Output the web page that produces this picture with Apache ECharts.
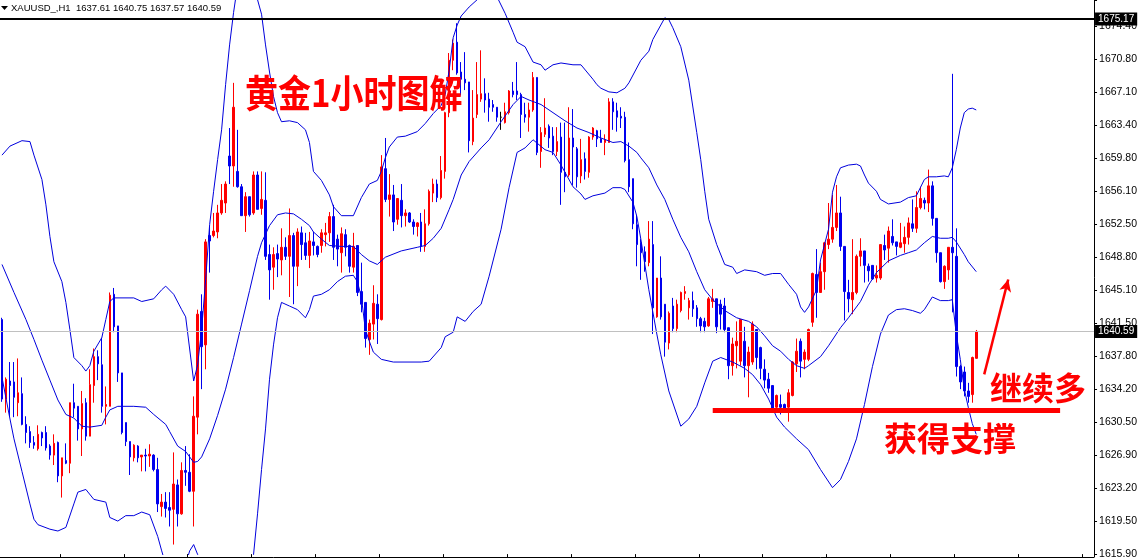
<!DOCTYPE html>
<html><head><meta charset="utf-8">
<script src="https://cdn.jsdelivr.net/npm/echarts@6/dist/echarts.min.js"></script>
<style>html,body{margin:0;padding:0;background:#fff}#c{width:1140px;height:560px}</style>
</head><body><div id="c"></div>
<script>
const symbolName = 'XAUUSD_,H1';
const open = [1641.9,1633.1,1635.1,1635.0,1632.7,1633.7,1630.3,1629.5,1628.3,1627.6,
1629.4,1629.4,1627.9,1626.9,1628.3,1624.6,1626.3,1626.0,1632.7,1632.3,
1629.8,1632.7,1629.0,1634.6,1637.8,1636.9,1632.3,1632.3,1644.7,1641.2,
1636.0,1630.5,1628.4,1626.6,1627.9,1626.7,1626.9,1626.8,1626.9,1625.3,
1621.2,1621.7,1621.1,1620.9,1623.6,1620.4,1625.2,1625.0,1622.9,1631.1,
1642.8,1639.1,1651.2,1651.2,1651.6,1653.7,1654.8,1660.0,1658.9,1658.3,
1656.6,1653.4,1655.5,1653.7,1657.9,1654.2,1655.1,1649.1,1647.7,1649.2,
1648.5,1649.9,1648.9,1651.2,1647.8,1651.5,1650.4,1649.0,1650.5,1650.0,
1650.1,1651.3,1651.5,1653.3,1650.8,1649.3,1651.3,1650.1,1647.7,1650.1,
1645.0,1643.8,1639.7,1641.4,1643.6,1641.9,1658.6,1655.2,1655.7,1653.0,
1655.1,1653.4,1653.7,1652.7,1652.2,1652.7,1650.0,1652.5,1655.9,1656.9,
1655.4,1658.3,1664.8,1670.6,1672.6,1669.3,1668.5,1668.2,1661.6,1664.6,
1666.3,1666.9,1666.3,1665.7,1665.4,1664.3,1663.7,1664.8,1667.2,1667.2,
1666.8,1664.6,1664.3,1665.1,1668.7,1660.5,1662.4,1663.3,1662.2,1660.5,
1662.1,1658.2,1657.9,1662.0,1660.8,1657.8,1659.7,1658.2,1662.1,1662.8,
1661.9,1661.5,1661.5,1666.0,1665.0,1664.4,1664.3,1659.6,1657.5,1652.4,
1650.4,1649.4,1648.2,1650.2,1642.2,1646.5,1643.6,1639.3,1643.4,1640.9,
1642.9,1644.8,1643.2,1644.0,1643.2,1642.0,1641.7,1641.2,1643.9,1644.2,
1643.6,1643.4,1641.0,1636.8,1639.0,1637.3,1639.5,1636.8,1637.2,1640.8,
1638.8,1636.4,1635.3,1634.6,1632.2,1632.5,1632.5,1632.2,1633.5,1637.0,
1639.5,1637.5,1637.5,1641.6,1646.9,1644.9,1647.2,1650.2,1650.8,1652.1,
1653.7,1650.0,1644.9,1644.1,1644.9,1648.9,1649.5,1647.8,1647.9,1646.5,
1646.5,1650.1,1649.8,1651.1,1650.5,1649.9,1650.3,1651.0,1652.5,1652.0,
1654.3,1655.1,1654.8,1656.7,1653.1,1649.3,1646.1,1647.4,1649.9,1648.9,
1636.7,1636.1,1634.0,1633.6,1637.61];
const close = [1633.1,1635.3,1634.6,1633.3,1633.8,1630.3,1629.4,1628.3,1628.0,1629.2,
1628.8,1627.7,1626.9,1628.2,1624.6,1626.6,1626.0,1632.7,1632.1,1629.8,
1632.6,1629.0,1634.7,1637.8,1637.0,1632.3,1632.5,1644.6,1641.1,1636.0,
1629.4,1628.4,1626.7,1628.0,1626.6,1626.9,1626.8,1627.0,1625.3,1621.5,
1621.7,1621.0,1620.8,1623.7,1620.4,1625.2,1625.0,1622.9,1631.2,1642.5,
1638.9,1650.5,1650.6,1651.7,1653.7,1655.1,1656.9,1658.9,1665.4,1656.6,
1653.4,1655.5,1653.5,1657.9,1654.1,1655.2,1648.9,1647.4,1649.1,1648.6,
1649.9,1648.9,1651.2,1647.8,1651.6,1650.2,1649.0,1650.6,1650.1,1649.1,
1651.5,1651.5,1653.3,1649.9,1649.7,1651.4,1649.9,1647.8,1650.0,1644.9,
1643.6,1639.8,1641.5,1643.7,1642.0,1658.8,1655.2,1655.7,1652.7,1655.3,
1653.4,1653.7,1652.7,1652.2,1652.6,1650.0,1652.5,1656.1,1656.9,1655.4,
1658.4,1664.8,1670.6,1672.5,1669.2,1668.5,1668.1,1661.7,1664.2,1666.8,
1666.9,1666.2,1665.4,1665.4,1664.3,1664.3,1664.9,1667.2,1666.8,1666.8,
1664.6,1664.3,1665.1,1668.7,1660.4,1662.6,1663.1,1662.0,1660.5,1661.6,
1658.2,1657.7,1662.0,1661.0,1657.7,1659.6,1658.3,1662.1,1663.1,1661.9,
1661.5,1661.8,1666.0,1664.9,1664.3,1664.2,1659.5,1656.6,1652.5,1650.2,
1649.3,1648.3,1650.8,1643.2,1646.5,1642.2,1639.4,1642.6,1640.9,1643.6,
1644.9,1645.0,1644.0,1643.1,1642.0,1641.2,1641.1,1644.2,1644.2,1641.1,
1642.5,1640.8,1636.8,1639.2,1639.5,1641.9,1636.8,1638.3,1641.4,1637.7,
1636.5,1635.2,1634.3,1632.1,1633.5,1632.2,1632.1,1633.8,1637.2,1638.4,
1637.3,1638.3,1640.8,1647.0,1644.9,1647.2,1650.4,1650.8,1652.1,1653.7,
1650.0,1645.0,1644.2,1644.9,1648.9,1649.5,1647.9,1647.3,1646.4,1646.8,
1650.2,1649.6,1651.7,1650.4,1650.0,1650.4,1651.0,1652.6,1652.0,1654.3,
1655.3,1654.8,1656.7,1653.1,1649.3,1646.1,1647.8,1649.9,1649.3,1636.7,
1635.0,1634.0,1633.4,1637.7,1640.59];
const low = [1632.8,1631.6,1631.2,1631.1,1631.2,1630.2,1628.2,1627.7,1627.6,1627.4,
1627.9,1627.4,1626.4,1625.8,1623.9,1622.2,1625.9,1624.9,1631.1,1628.5,
1626.8,1628.5,1629.0,1632.7,1635.2,1631.6,1630.3,1632.3,1640.5,1635.0,
1629.2,1627.9,1624.7,1626.2,1626.1,1625.1,1625.1,1625.6,1625.1,1620.6,
1620.1,1620.0,1619.0,1617.0,1619.0,1620.3,1623.5,1622.8,1619.0,1629.2,
1634.2,1636.4,1647.1,1651.0,1650.9,1653.5,1653.7,1656.9,1656.6,1656.5,
1653.4,1651.6,1653.3,1653.5,1654.1,1653.5,1648.5,1644.1,1645.2,1646.6,
1646.8,1648.5,1644.4,1643.6,1645.6,1648.5,1648.5,1647.6,1649.0,1648.8,
1649.3,1650.0,1650.5,1648.5,1647.8,1647.1,1648.9,1647.1,1647.1,1644.5,
1642.7,1638.8,1638.0,1639.7,1639.2,1641.8,1654.9,1653.3,1651.7,1652.4,
1652.1,1652.2,1652.6,1651.3,1651.1,1649.4,1649.4,1652.3,1654.9,1654.9,
1655.2,1657.5,1664.3,1669.5,1669.0,1666.7,1667.3,1660.4,1661.2,1664.2,
1666.0,1664.8,1663.8,1664.9,1663.8,1662.9,1663.6,1664.6,1666.5,1666.2,
1662.0,1663.7,1662.7,1664.9,1660.1,1658.7,1662.1,1660.9,1660.1,1660.0,
1654.6,1656.0,1657.7,1656.8,1656.5,1657.0,1657.4,1657.6,1661.8,1661.0,
1661.5,1660.1,1661.5,1662.9,1662.7,1663.1,1659.3,1656.0,1651.9,1647.8,
1646.3,1647.2,1647.8,1640.3,1642.1,1641.9,1637.8,1638.6,1640.5,1640.5,
1642.7,1644.1,1641.9,1642.2,1641.1,1640.5,1640.5,1641.1,1643.2,1640.4,
1640.8,1640.5,1635.3,1635.7,1636.5,1636.8,1635.5,1633.3,1636.9,1636.4,
1635.3,1634.3,1633.8,1631.6,1632.0,1631.4,1632.0,1630.6,1633.4,1636.1,
1635.5,1636.4,1637.3,1641.1,1642.1,1644.9,1645.2,1649.7,1650.4,1651.7,
1649.5,1641.8,1642.7,1642.5,1644.7,1647.8,1646.0,1646.1,1646.3,1646.0,
1646.3,1648.5,1648.2,1650.1,1649.0,1649.8,1649.3,1650.2,1651.6,1651.5,
1654.1,1654.1,1653.8,1652.3,1648.2,1646.0,1645.3,1646.3,1642.7,1635.6,
1634.2,1633.4,1632.7,1632.7,1637.57];
const high = [1642.1,1635.5,1637.2,1637.2,1637.6,1635.5,1631.2,1630.1,1629.0,1630.2,
1629.5,1630.1,1628.1,1629.2,1628.4,1626.6,1628.2,1632.7,1634.8,1632.3,
1634.0,1633.2,1636.4,1638.7,1638.5,1639.9,1634.5,1644.9,1645.4,1641.2,
1636.0,1630.5,1628.4,1628.1,1628.0,1626.9,1627.6,1628.1,1627.0,1626.6,
1622.6,1622.8,1622.8,1627.2,1624.2,1626.1,1627.9,1627.0,1633.4,1643.0,
1644.7,1650.8,1652.2,1653.7,1654.6,1656.9,1657.2,1663.1,1668.1,1662.9,
1656.9,1656.0,1655.5,1658.3,1658.3,1658.3,1658.2,1650.2,1649.9,1650.2,
1652.0,1651.0,1654.2,1651.5,1652.0,1652.2,1651.5,1651.6,1651.6,1650.1,
1651.9,1652.6,1653.8,1654.6,1651.3,1652.1,1651.9,1650.2,1651.5,1650.1,
1648.2,1643.8,1641.9,1645.7,1644.7,1660.1,1662.0,1658.0,1656.8,1655.3,
1656.9,1654.1,1653.8,1653.0,1652.7,1653.7,1654.1,1656.3,1657.5,1657.4,
1660.0,1664.9,1671.4,1672.9,1674.7,1670.4,1671.5,1668.2,1667.3,1670.4,
1671.7,1668.6,1667.0,1666.2,1665.4,1664.9,1665.9,1667.3,1668.2,1670.4,
1667.0,1665.9,1665.9,1669.3,1668.7,1663.2,1666.4,1663.5,1663.2,1663.2,
1663.7,1663.7,1665.4,1665.2,1661.0,1661.9,1660.4,1662.2,1663.2,1662.9,
1662.9,1662.4,1666.4,1666.4,1665.9,1665.4,1664.9,1661.5,1657.5,1653.5,
1650.8,1650.0,1652.8,1652.8,1646.5,1648.9,1643.6,1642.8,1644.3,1644.1,
1645.0,1645.6,1644.3,1645.0,1643.5,1642.2,1642.1,1644.4,1645.3,1644.2,
1644.1,1644.3,1641.0,1639.9,1641.7,1641.9,1641.1,1638.9,1641.7,1640.8,
1638.9,1637.5,1636.0,1634.6,1633.6,1633.6,1632.6,1634.2,1637.3,1639.8,
1639.8,1638.6,1640.9,1647.1,1649.7,1648.2,1650.5,1654.8,1655.7,1656.8,
1655.5,1650.0,1646.3,1650.8,1649.1,1650.9,1649.5,1648.1,1647.9,1647.9,
1650.2,1651.3,1652.2,1653.0,1650.5,1652.6,1652.2,1653.2,1655.2,1656.1,
1656.6,1655.4,1658.5,1657.2,1653.1,1649.3,1647.9,1649.9,1669.1,1652.0,
1636.9,1636.7,1634.9,1637.8,1640.75];

const upperBand = [[0,1660.1],[2,1661.1],[5,1661.7],[7,1661.6],[8,1660.1],[10,1657.4],[11,1654.6],[12,1651.1],[13,1648.3],[15,1646.1],[16,1643.8],[17,1640.8],[18,1637.7],[20,1636.8],[21,1636.2],[22,1636.8],[23,1638.4],[25,1639.9],[26,1641.9],[27,1643.9],[28,1644.3],[33,1644.3],[35,1643.9],[38,1644.2],[40,1645.2],[41,1645.6],[43,1644.7],[45,1643.0],[46,1642.2],[48,1635.1],[49,1636.9],[50,1640.8],[51,1646.3],[52,1652.4],[53,1656.1],[54,1659.6],[55,1662.9],[56,1667.9],[57,1672.3],[58,1675.9],[59,1678.9],[60,1681.5],[61,1682.8],[62,1682.8],[63,1681.5],[64,1677.3],[65,1675.7],[66,1672.3],[67,1669.3],[68,1666.6],[69,1664.8],[70,1663.8],[72,1663.9],[74,1663.7],[76,1662.9],[77,1661.5],[78,1658.3],[80,1657.3],[82,1655.7],[83,1654.4],[85,1653.4],[88,1653.4],[90,1655.4],[92,1656.9],[94,1657.3],[95,1658.3],[96,1659.8],[97,1661.0],[99,1662.1],[101,1662.2],[104,1662.7],[106,1663.6],[108,1664.7],[110,1665.6],[111,1666.8],[112,1669.5],[113,1673.1],[114,1674.5],[115,1675.5],[117,1676.5],[119,1677.3],[120,1678.2],[122,1678.6],[124,1677.6],[126,1675.8],[128,1673.7],[129,1672.6],[131,1672.1],[133,1670.4],[135,1670.1],[136,1669.5],[138,1670.1],[140,1670.3],[143,1670.1],[145,1670.1],[148,1668.5],[149,1667.9],[150,1667.5],[152,1667.1],[154,1667.0],[156,1667.5],[157,1668.1],[160,1670.6],[162,1671.6],[163,1672.9],[165,1674.5],[166,1675.3],[167,1675.1],[168,1674.2],[170,1672.1],[172,1668.4],[174,1662.6],[175,1659.6],[176,1656.1],[177,1653.0],[179,1650.2],[181,1648.0],[183,1647.7],[184,1647.0],[186,1647.4],[189,1647.2],[191,1646.8],[193,1647.0],[195,1647.0],[197,1645.8],[199,1644.7],[200,1643.3],[201,1642.7],[202,1643.3],[204,1645.2],[205,1648.5],[207,1651.9],[208,1656.0],[209,1657.7],[210,1658.7],[212,1659.0],[214,1659.1],[215,1658.9],[216,1657.9],[217,1657.0],[219,1656.1],[220,1655.2],[222,1654.7],[225,1654.9],[227,1655.4],[229,1655.6],[230,1656.5],[231,1657.4],[232,1657.7],[234,1657.7],[236,1657.8],[237,1657.7],[238,1658.7],[239,1660.7],[240,1663.1],[241,1664.8],[242,1665.2],[243,1665.3],[244,1665.1]];
const middleBand = [[0,1648.0],[3,1644.9],[6,1641.9],[8,1639.7],[10,1637.4],[12,1635.2],[14,1633.0],[16,1631.4],[18,1631.0],[20,1630.1],[22,1630.0],[25,1630.2],[26,1631.1],[27,1631.9],[29,1632.3],[33,1632.3],[36,1632.2],[38,1631.4],[41,1630.3],[42,1629.5],[44,1627.9],[46,1627.3],[48,1626.1],[49,1626.2],[50,1626.7],[52,1628.7],[54,1631.3],[56,1634.2],[58,1637.7],[60,1641.4],[62,1645.1],[64,1648.9],[65,1650.4],[67,1652.3],[69,1653.5],[71,1653.7],[73,1653.6],[75,1653.0],[77,1652.3],[78,1651.6],[80,1650.8],[82,1650.1],[85,1650.0],[88,1650.0],[90,1649.1],[92,1648.4],[94,1648.0],[96,1648.8],[100,1649.5],[104,1649.9],[106,1650.1],[108,1650.9],[110,1652.0],[112,1654.1],[113,1655.2],[115,1657.9],[117,1659.4],[120,1660.9],[122,1661.8],[125,1663.8],[128,1665.7],[130,1666.6],[132,1666.2],[135,1665.7],[138,1664.8],[141,1663.9],[144,1663.1],[147,1662.6],[150,1662.0],[153,1661.5],[155,1661.6],[157,1661.1],[159,1660.4],[160,1659.8],[162,1658.7],[164,1656.8],[166,1655.2],[168,1653.0],[170,1651.0],[172,1649.4],[174,1647.2],[176,1645.2],[178,1644.1],[181,1642.9],[184,1642.1],[187,1641.7],[189,1641.1],[191,1640.1],[193,1639.0],[195,1638.4],[197,1637.5],[199,1636.8],[201,1636.5],[202,1636.8],[205,1637.8],[207,1639.0],[210,1641.0],[212,1642.1],[215,1643.9],[217,1645.7],[219,1647.1],[222,1648.4],[225,1649.0],[227,1649.3],[229,1649.6],[231,1650.4],[233,1651.1],[235,1650.9],[237,1650.9],[238,1651.0],[239,1650.5],[241,1649.1],[242,1648.3],[244,1647.2]];
const lowerBand = [[0,1635.5],[2,1630.9],[3,1628.7],[5,1625.1],[7,1621.5],[8,1619.8],[9,1619.2],[12,1618.7],[14,1618.5],[16,1618.9],[18,1621.5],[19,1622.8],[21,1623.1],[23,1622.0],[26,1621.7],[27,1620.0],[29,1619.6],[31,1620.2],[33,1620.2],[35,1620.6],[37,1620.3],[39,1617.9],[40,1616.3],[41,1614.8],[43,1613.2],[45,1613.4],[46,1614.8],[47,1616.3],[48,1617.0],[49,1615.9],[50,1612.6],[52,1605.4],[55,1599.9],[58,1599.9],[60,1605.4],[62,1613.2],[63,1615.9],[64,1620.4],[65,1625.3],[66,1629.8],[67,1635.3],[68,1639.1],[69,1642.1],[70,1643.8],[72,1643.4],[74,1643.0],[76,1642.1],[77,1643.0],[78,1644.5],[80,1644.7],[82,1645.2],[84,1646.1],[86,1646.7],[88,1646.8],[89,1646.1],[90,1644.4],[91,1640.8],[92,1639.5],[93,1638.3],[95,1637.5],[98,1637.2],[105,1637.2],[107,1637.3],[110,1638.8],[111,1640.0],[113,1640.5],[114,1642.2],[116,1641.7],[118,1642.8],[120,1643.6],[122,1646.7],[125,1651.9],[127,1656.5],[129,1660.4],[131,1660.9],[133,1661.8],[136,1660.7],[138,1660.4],[140,1659.0],[143,1656.6],[145,1655.8],[146,1655.2],[148,1655.6],[151,1655.9],[153,1656.5],[155,1656.5],[156,1656.3],[158,1654.9],[159,1653.3],[160,1650.8],[162,1645.2],[164,1640.3],[165,1638.0],[167,1634.0],[170,1630.1],[172,1630.9],[174,1632.3],[176,1634.9],[178,1637.3],[180,1637.7],[183,1637.2],[186,1636.5],[188,1635.8],[190,1634.7],[192,1633.1],[194,1631.1],[196,1630.0],[199,1628.7],[202,1627.5],[205,1625.3],[208,1623.3],[210,1624.2],[212,1626.2],[214,1628.7],[216,1632.5],[218,1636.7],[220,1640.3],[222,1642.4],[224,1643.0],[226,1643.1],[228,1642.9],[230,1642.6],[231,1643.0],[233,1644.4],[235,1644.0],[237,1644.0],[238,1644.1],[239,1640.3],[240,1637.5],[241,1634.2],[242,1632.2],[243,1630.4],[244,1629.2]];

const priceTicks = ['1615.90','1619.50','1623.20','1626.90','1630.50','1634.20','1637.80','1641.50','1645.10','1648.80','1652.50','1656.10','1659.80','1663.40','1667.10','1670.80','1674.40'];
const tickStart = 1615.90, tickStep = 3.65625, axisTop = 1677.27;
const slotCount = 274;
const highLine = 1675.17;
const supportLine = {from: 178, to: 265, price: 1631.85};
const arrowLine = {from: [245.5, 1635.83], to: [251.5, 1646.33]};

const slots = Array.from({length: slotCount}, (_, i) => String(i));
const candles = open.map((o, i) => [o, close[i], low[i], high[i]]);
const last = candles.length - 1;
const lastText = [open[last], high[last], low[last], close[last]].map(v => v.toFixed(2)).join(' ');

const RED = '#ff0000', BLUE = '#0000ee', BAND = '#0000dd';
const boxLabel = {show: true, position: 'end', distance: 1, formatter: p => Number(p.value).toFixed(2),
  color: '#fff', backgroundColor: '#000', padding: [2, 3, 1, 3], fontSize: 10, fontFamily: 'Liberation Sans'};

const chart = echarts.init(document.getElementById('c'), null, {renderer: 'canvas'});
const bandSeries = (name, d) => ({name, type: 'line', data: d, showSymbol: false, symbol: 'none', smooth: false,
  lineStyle: {color: BAND, width: 1}, silent: true, animation: false, z: 3});
const annoText = (text, x, y, size, sy) => ({type: 'text', x, y, z: 10, scaleY: sy, originY: 0, style: {text, fill: '#ff0000',
  font: 'bold ' + size + 'px "Noto Sans CJK SC"', textVerticalAlign: 'middle',
  shadowColor: 'rgba(40,0,0,0.95)', shadowOffsetX: -2, shadowOffsetY: 2, shadowBlur: 1}});

chart.setOption({
  animation: false,
  backgroundColor: '#fff',
  grid: {left: -1, right: 45, top: 0, bottom: 4.6},
  xAxis: {type: 'category', data: slots, boundaryGap: true, offset: 2.6,
    axisLine: {show: true, lineStyle: {color: '#000', width: 1}},
    axisTick: {show: true, inside: true, length: 3, interval: (i) => i % 16 === 15, lineStyle: {color: '#000'}},
    axisLabel: {show: false}, splitLine: {show: false}},
  yAxis: {type: 'value', position: 'right', min: tickStart, max: axisTop, interval: tickStep, scale: true,
    axisLine: {show: true, lineStyle: {color: '#000', width: 1}},
    axisTick: {show: true, length: 3, lineStyle: {color: '#000'}},
    splitLine: {show: false},
    axisLabel: {margin: 5, color: '#000', fontSize: 10.5, fontFamily: 'Liberation Sans',
      formatter: v => { const k = (v - tickStart) / tickStep; const r = Math.round(k);
        return Math.abs(k - r) < 0.02 && priceTicks[r] ? priceTicks[r] : ''; }}},
  graphic: [
    {type: 'polygon', shape: {points: [[1, 6], [8, 6], [4.5, 10]]}, style: {fill: '#000'}},
    {type: 'text', x: 11, y: 8, style: {text: symbolName + '  ' + lastText, fill: '#000',
      font: '9.5px "Liberation Sans"', textVerticalAlign: 'middle'}},
    annoText('黄金1小时图解', 245, 93, 33, 1.15),
    annoText('继续多', 990, 388, 32, 1),
    annoText('获得支撑', 884, 438, 33, 1)
  ],
  series: [
    {type: 'candlestick', data: candles, barWidth: 2, z: 2,
      itemStyle: {color: RED, color0: BLUE, borderColor: RED, borderColor0: BLUE, borderColorDoji: '#000', borderWidth: 1},
      markLine: {silent: true, animation: false, symbol: ['none', 'none'], precision: 2,
        data: [
          {yAxis: highLine, lineStyle: {color: '#000', width: 2, type: 'solid'}, label: boxLabel},
          {yAxis: close[last], lineStyle: {color: '#c0c0c0', width: 1, type: 'solid'}, label: boxLabel},
          [{coord: [supportLine.from, supportLine.price], lineStyle: {color: RED, width: 5, type: 'solid'}, label: {show: false}},
           {coord: [supportLine.to, supportLine.price]}],
          [{coord: arrowLine.from, symbol: 'none', lineStyle: {color: RED, width: 2.5, type: 'solid'}, label: {show: false}},
           {coord: arrowLine.to, symbol: 'arrow', symbolSize: [9, 12]}]
        ]}},
    bandSeries('upper', upperBand),
    bandSeries('middle', middleBand),
    bandSeries('lower', lowerBand)
  ]
});
</script></body></html>
